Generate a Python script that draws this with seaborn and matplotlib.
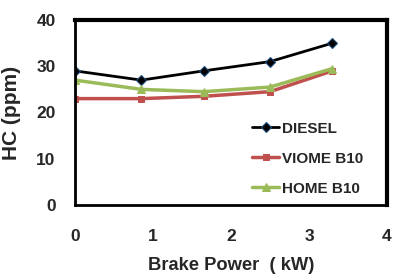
import pandas as pd
import matplotlib
matplotlib.use("Agg")
import matplotlib.pyplot as plt
import seaborn as sns

# Values
brake_power = [0, 0.85, 1.65, 2.5, 3.3]
diesel = [29, 27, 29, 31, 35]
viome_b10 = [23, 23, 23.5, 24.5, 29]
home_b10 = [27, 25, 24.5, 25.5, 29.5]

sns.set_style("white")
plt.rcParams["font.family"] = ["Liberation Sans", "DejaVu Sans"]
plt.rcParams["font.weight"] = "bold"

fig = plt.figure(figsize=(3.99, 2.79), dpi=100)
ax = fig.add_axes([75 / 399, 74 / 279, 312 / 399, 185 / 279])

sns.lineplot(x=brake_power, y=diesel, ax=ax, color="black", lw=2,
             marker="D", markersize=5, markerfacecolor="black",
             markeredgecolor="#1F4E79", markeredgewidth=0.8, label="DIESEL")
sns.lineplot(x=brake_power, y=viome_b10, ax=ax, color="#C0504D", lw=2.5,
             marker="s", markersize=5, markeredgecolor="#C0504D", label="VIOME B10")
sns.lineplot(x=brake_power, y=home_b10, ax=ax, color="#9BBB59", lw=2.5,
             marker="^", markersize=6, markeredgecolor="#9BBB59", label="HOME B10")

ax.set_xlim(0, 4)
ax.set_ylim(0, 40)
ax.set_xticks([0, 1, 2, 3, 4])
ax.set_yticks([0, 10, 20, 30, 40])
ax.tick_params(axis="both", labelsize=12.5, direction="out", length=4,
               color="#888888", width=0.8)
ax.tick_params(axis="x", pad=13)
ax.tick_params(axis="y", pad=10)
for lab in ax.get_xticklabels() + ax.get_yticklabels():
    lab.set_fontweight("bold")

for side in ["top", "right"]:
    ax.spines[side].set_linewidth(3)
    ax.spines[side].set_color("black")
for side in ["left", "bottom"]:
    ax.spines[side].set_linewidth(2)
    ax.spines[side].set_color("black")

ax.set_xlabel("Brake Power  ( kW)", fontsize=13.2, fontweight="bold", labelpad=10)
ax.set_ylabel("HC (ppm)", fontsize=15, fontweight="bold", labelpad=11)

leg = ax.legend(loc="upper left", frameon=False, fontsize=11,
                handlelength=1.8, handletextpad=0.2, labelspacing=1.05,
                borderpad=0, borderaxespad=0,
                bbox_to_anchor=(0.567, 0.45))
for t in leg.get_texts():
    t.set_fontweight("bold")

fig.savefig("out.png", dpi=100)
